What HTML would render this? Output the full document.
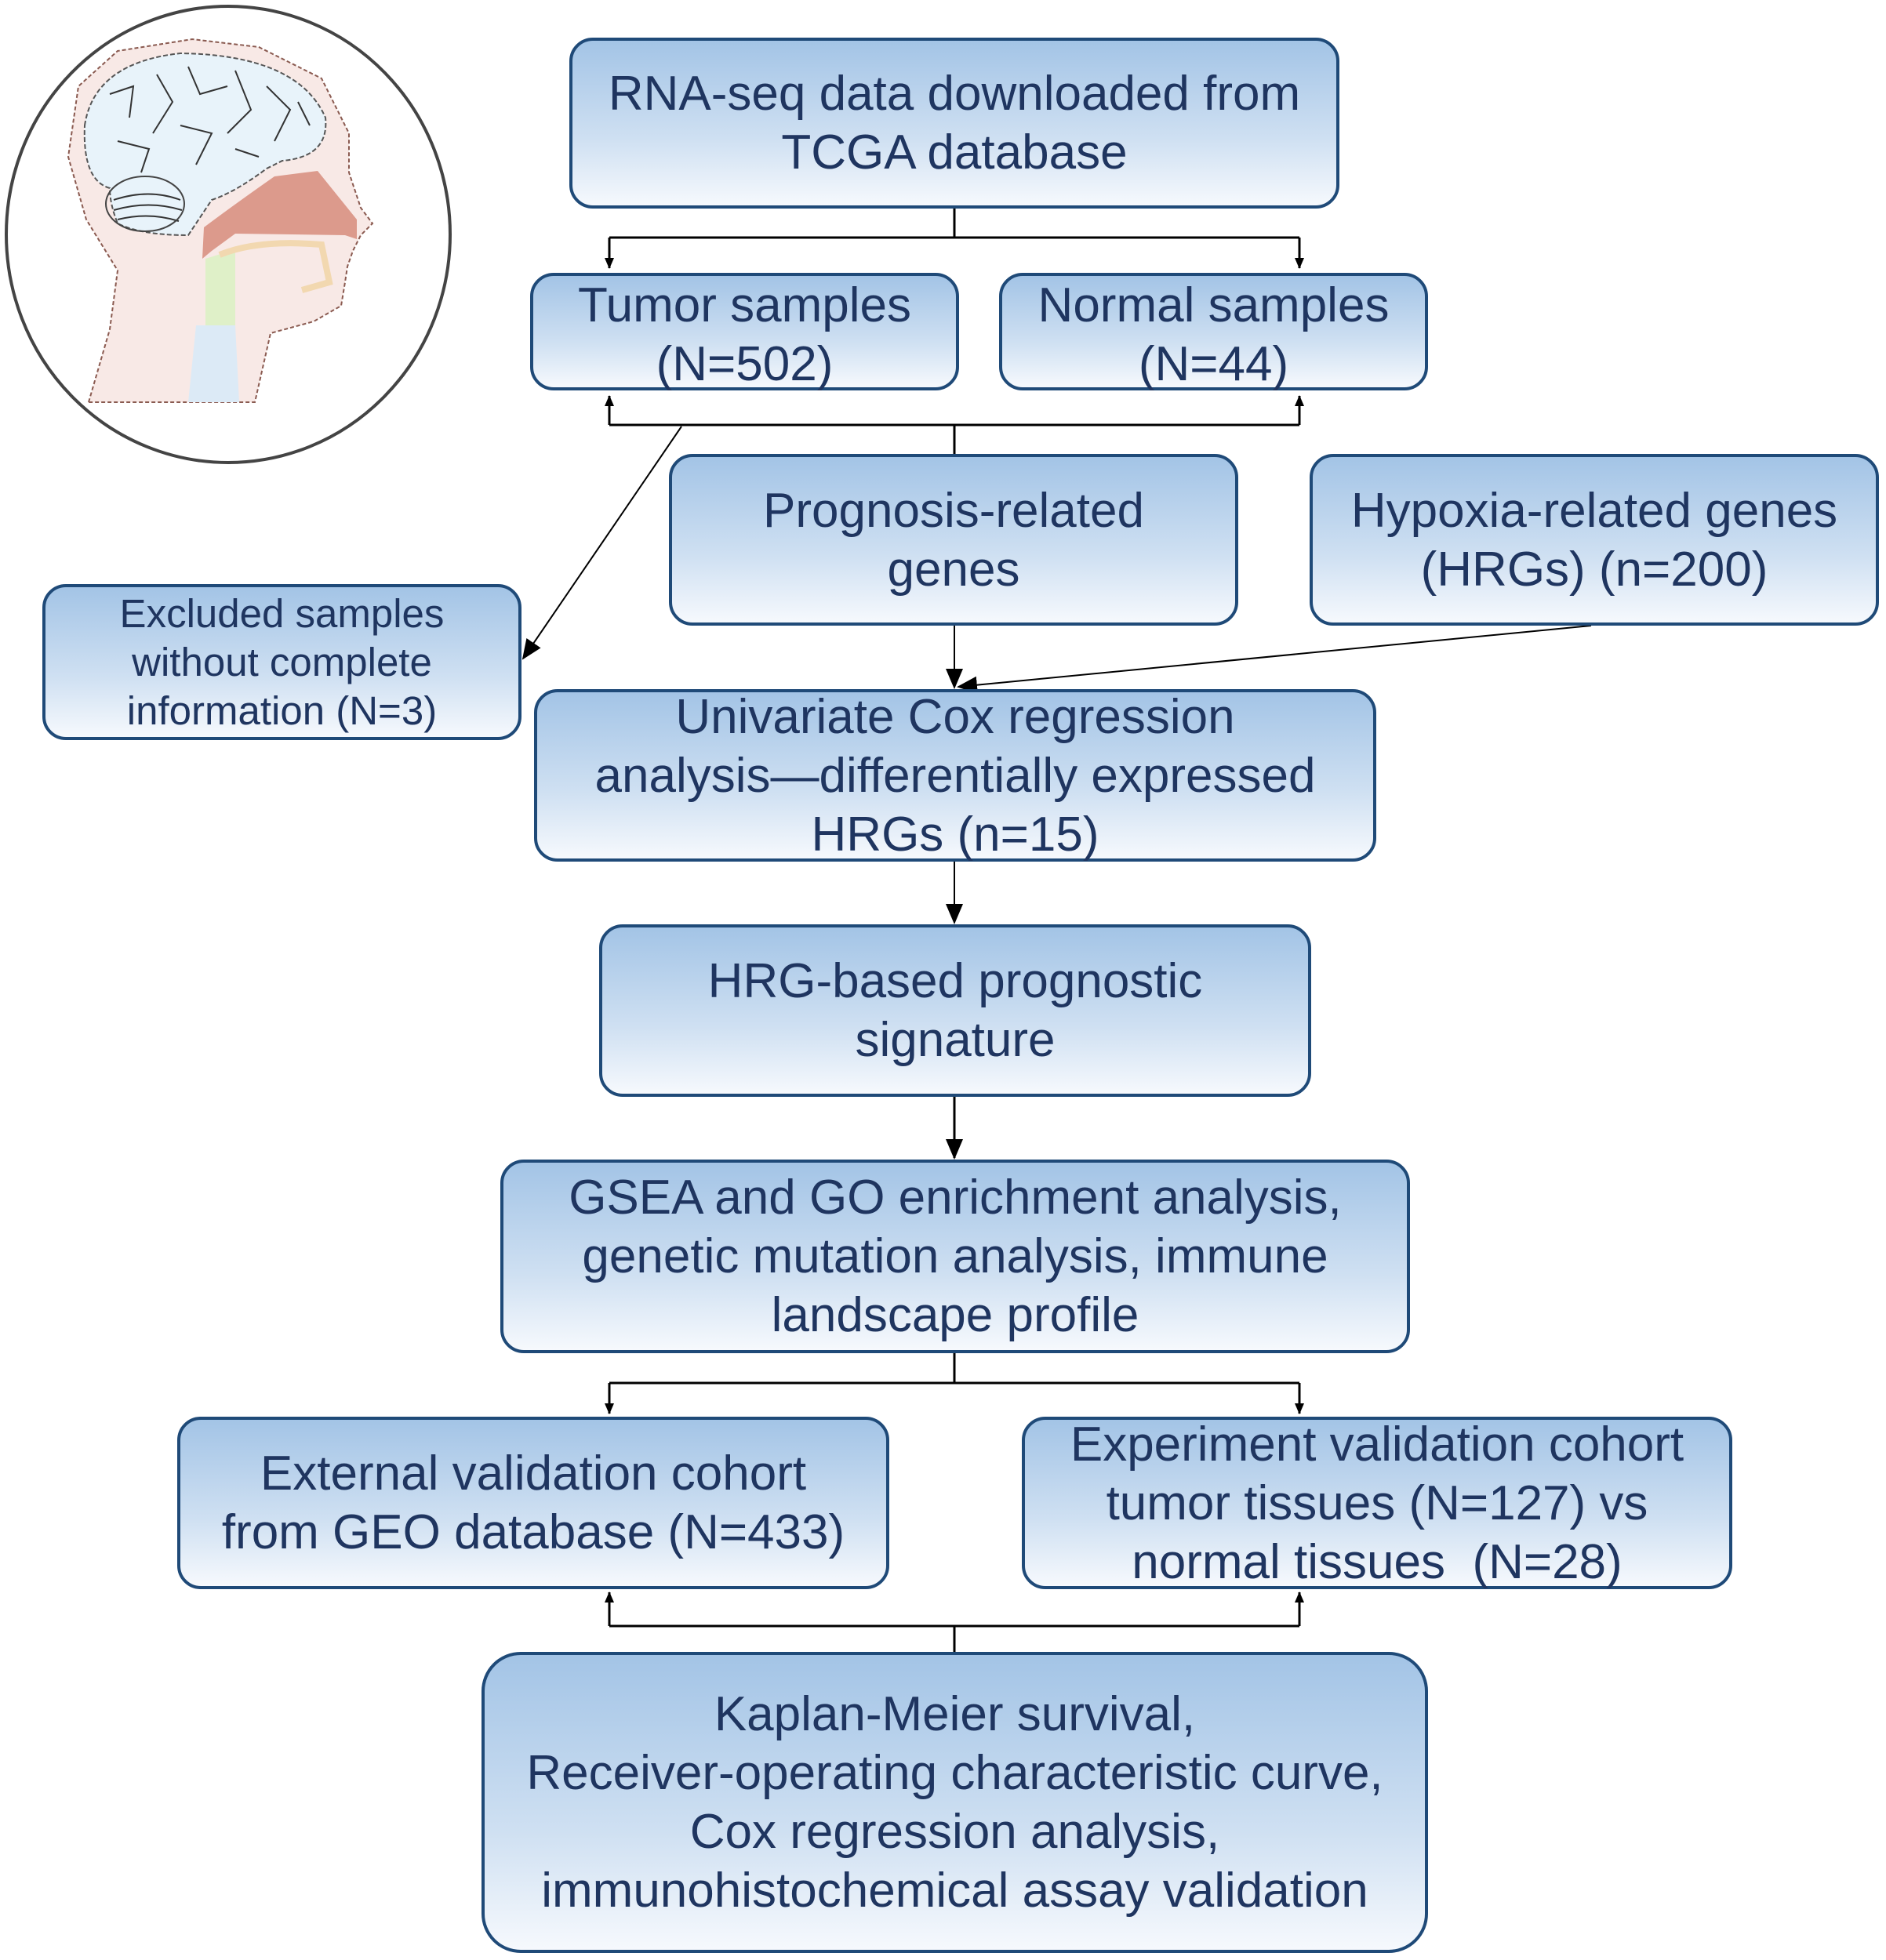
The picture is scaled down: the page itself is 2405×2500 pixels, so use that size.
<!DOCTYPE html>
<html><head><meta charset="utf-8"><style>
body{margin:0;width:2405px;height:2500px;background:#fff;position:relative;overflow:hidden;font-family:"Liberation Sans",Arial,sans-serif}
.b{position:absolute;box-sizing:border-box;border:4px solid #1f4a78;border-radius:30px;background:linear-gradient(#a3c4e6,#cfe0f2 60%,#f6f9fd);color:#1f3560;display:flex;align-items:center;justify-content:center;text-align:center;font-size:62px;line-height:75px;white-space:nowrap}
svg{position:absolute;left:0;top:0}
</style></head><body>
<svg width="2405" height="2500">
<defs><marker id="a" markerWidth="14" markerHeight="14" refX="13" refY="7" orient="auto" markerUnits="userSpaceOnUse" viewBox="0 0 14 14"><path d="M0,1 L14,7 L0,13z" fill="#000"/></marker>
<marker id="A" markerWidth="26" markerHeight="26" refX="24" refY="13" orient="auto" markerUnits="userSpaceOnUse" viewBox="0 0 26 26"><path d="M0,2 L26,13 L0,24z" fill="#000"/></marker></defs>
<ellipse cx="291" cy="299" rx="283" ry="291" fill="#fff" stroke="#444" stroke-width="4"/>
<path d="M113,513 L140,420 L150,345 L110,280 L87,200 L100,110 L150,65 L245,50 L330,60 L410,100 L445,170 L445,220 L460,265 L475,285 L460,300 L450,320 L443,340 L440,360 L435,390 L400,410 L345,425 L325,513Z" fill="#f8e9e6" stroke="#8a5a50" stroke-width="2" stroke-dasharray="5,3"/>
<path d="M108,160 Q120,80 230,68 Q380,70 415,150 Q420,200 360,205 L340,215 Q300,245 270,255 L240,300 Q180,300 150,285 Q140,260 140,240 Q105,230 108,160Z" fill="#e8f3fa" stroke="#555" stroke-width="2" stroke-dasharray="6,3"/>
<g fill="none" stroke="#333" stroke-width="2">
<path d="M140,120 L170,110 L165,150 M200,95 L220,130 L195,170 M240,85 L255,120 L290,110 M300,90 L320,140 L290,170 M340,110 L370,140 L350,180 M150,180 L190,190 L180,220 M230,160 L270,170 L250,210 M300,190 L330,200 M380,130 L395,160"/>
<path d="M145,255 Q190,240 230,255 M145,268 Q190,255 232,268 M150,280 Q190,270 228,282"/>
</g>
<ellipse cx="185" cy="260" rx="50" ry="35" fill="none" stroke="#444" stroke-width="2"/>
<path d="M258,330 L260,290 Q300,260 350,225 L405,218 L455,280 L455,305 L440,300 L300,298 L270,320Z" fill="#dc9a8c"/>
<path d="M262,330 L300,318 L300,415 L262,415Z" fill="#dff0c8"/>
<path d="M250,415 L300,415 L305,513 L240,513Z" fill="#dceaf6"/>
<path d="M280,325 Q330,305 410,312 L420,360 L385,370" fill="none" stroke="#f2d8b0" stroke-width="8"/>
<g fill="none" stroke="#000" stroke-width="3">
<path d="M1217,266 V303 M777,303 H1657"/>
<line x1="777" y1="303" x2="777" y2="342" marker-end="url(#a)"/>
<line x1="1657" y1="303" x2="1657" y2="342" marker-end="url(#a)"/>
<path d="M1217,579 V542 M777,542 H1657"/>
<line x1="777" y1="542" x2="777" y2="505" marker-end="url(#a)"/>
<line x1="1657" y1="542" x2="1657" y2="505" marker-end="url(#a)"/>
<line x1="869" y1="544" x2="667" y2="840" stroke-width="2" marker-end="url(#A)"/>
<line x1="1217" y1="798" x2="1217" y2="877" stroke-width="2" marker-end="url(#A)"/>
<line x1="2029" y1="798" x2="1222" y2="876" stroke-width="2" marker-end="url(#A)"/>
<line x1="1217" y1="1099" x2="1217" y2="1177" stroke-width="2" marker-end="url(#A)"/>
<line x1="1217" y1="1399" x2="1217" y2="1477" stroke-width="3" marker-end="url(#A)"/>
<path d="M1217,1726 V1764 M777,1764 H1657"/>
<line x1="777" y1="1764" x2="777" y2="1803" marker-end="url(#a)"/>
<line x1="1657" y1="1764" x2="1657" y2="1803" marker-end="url(#a)"/>
<path d="M1217,2107 V2074 M777,2074 H1657"/>
<line x1="777" y1="2074" x2="777" y2="2031" marker-end="url(#a)"/>
<line x1="1657" y1="2074" x2="1657" y2="2031" marker-end="url(#a)"/>
</g>
</svg>
<div class="b" style="left:726px;top:48px;width:982px;height:218px">RNA-seq data downloaded from<br>TCGA database</div>
<div class="b" style="left:676px;top:348px;width:547px;height:150px;align-items:flex-start">Tumor samples<br>(N=502)</div>
<div class="b" style="left:1274px;top:348px;width:547px;height:150px;align-items:flex-start">Normal samples<br>(N=44)</div>
<div class="b" style="left:853px;top:579px;width:726px;height:219px">Prognosis-related<br>genes</div>
<div class="b" style="left:1670px;top:579px;width:726px;height:219px">Hypoxia-related genes<br>(HRGs) (n=200)</div>
<div class="b" style="left:54px;top:745px;width:611px;height:199px;font-size:51px;line-height:62px">Excluded samples<br>without complete<br>information (N=3)</div>
<div class="b" style="left:681px;top:879px;width:1074px;height:220px">Univariate Cox regression<br>analysis—differentially expressed<br>HRGs (n=15)</div>
<div class="b" style="left:764px;top:1179px;width:908px;height:220px">HRG-based prognostic<br>signature</div>
<div class="b" style="left:638px;top:1479px;width:1160px;height:247px">GSEA and GO enrichment analysis,<br>genetic mutation analysis, immune<br>landscape profile</div>
<div class="b" style="left:226px;top:1807px;width:908px;height:220px">External validation cohort<br>from GEO database (N=433)</div>
<div class="b" style="left:1303px;top:1807px;width:906px;height:220px">Experiment validation cohort<br>tumor tissues (N=127) vs<br>normal tissues&nbsp; (N=28)</div>
<div class="b" style="left:614px;top:2107px;width:1207px;height:384px;border-radius:50px">Kaplan-Meier survival,<br>Receiver-operating characteristic curve,<br>Cox regression analysis,<br>immunohistochemical assay validation</div>
</body></html>
